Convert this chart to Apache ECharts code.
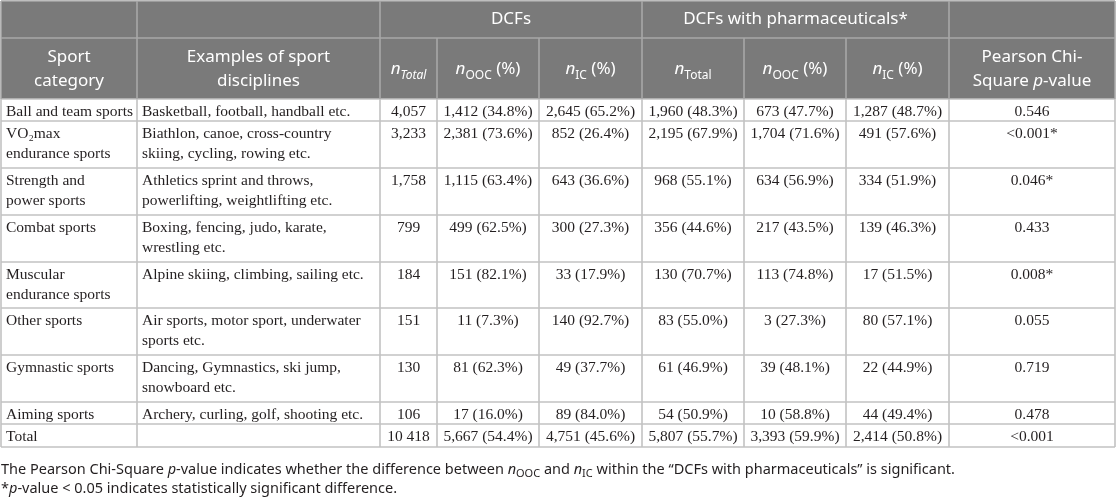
<!DOCTYPE html>
<html>
<head>
	<title>DCFs by sport category</title>
	<meta charset="utf-8">
	<script src="https://cdn.jsdelivr.net/npm/echarts@6/dist/echarts.min.js"></script>
	<style>body{margin:0;background:#fff;}</style>
</head>
<body>
	<div id="table-box" style="width: 1116px;height: 498px;"></div>
<script>
	// rows of the table, last one is the total
	var categories = ['Ball and team sports', 'VO\u2082max\nendurance sports', 'Strength and\npower sports', 'Combat sports',
		'Muscular\nendurance sports', 'Other sports', 'Gymnastic sports', 'Aiming sports', 'Total'];
	var examples = ['Basketball, football, handball etc.', 'Biathlon, canoe, cross-country\nskiing, cycling, rowing etc.',
		'Athletics sprint and throws,\npowerlifting, weightlifting etc.', 'Boxing, fencing, judo, karate,\nwrestling etc.',
		'Alpine skiing, climbing, sailing etc.', 'Air sports, motor sport, underwater\nsports etc.',
		'Dancing, Gymnastics, ski jump,\nsnowboard etc.', 'Archery, curling, golf, shooting etc.', ''];
	var nTotal = [4057, 3233, 1758, 799, 184, 151, 130, 106, 10418];
	var dcfOOC = [1412, 2381, 1115, 499, 151, 11, 81, 17, 5667];
	var dcfOOCPct = [34.8, 73.6, 63.4, 62.5, 82.1, 7.3, 62.3, 16.0, 54.4];
	var dcfIC = [2645, 852, 643, 300, 33, 140, 49, 89, 4751];
	var dcfICPct = [65.2, 26.4, 36.6, 27.3, 17.9, 92.7, 37.7, 84.0, 45.6];
	var phTotal = [1960, 2195, 968, 356, 130, 83, 61, 54, 5807];
	var phTotalPct = [48.3, 67.9, 55.1, 44.6, 70.7, 55.0, 46.9, 50.9, 55.7];
	var phOOC = [673, 1704, 634, 217, 113, 3, 39, 10, 3393];
	var phOOCPct = [47.7, 71.6, 56.9, 43.5, 74.8, 27.3, 48.1, 58.8, 59.9];
	var phIC = [1287, 491, 334, 139, 17, 80, 22, 44, 2414];
	var phICPct = [48.7, 57.6, 51.9, 46.3, 51.5, 57.1, 44.9, 49.4, 50.8];
	var pValues = ['0.546', '<0.001*', '0.046*', '0.433', '0.008*', '0.055', '0.719', '0.478', '<0.001'];

	var groupHeads = ['DCFs', 'DCFs with pharmaceuticals*'];
	var colHeads = ['Sport\ncategory', 'Examples of sport\ndisciplines', '{i|n}{si|Total}', '{i|n}{s|OOC}{t| (%)}',
		'{i|n}{s|IC}{t| (%)}', '{i|n}{s|Total}', '{i|n}{s|OOC}{t| (%)}', '{i|n}{s|IC}{t| (%)}', 'Pearson Chi-\nSquare {i|p}-value'];
	var notes = ['The Pearson Chi-Square {i|p}-value indicates whether the difference between {i|n}{s|OOC} and {i|n}{s|IC} within the \u201CDCFs with pharmaceuticals\u201D is significant.',
		'*{i|p}-value < 0.05 indicates statistically significant difference.'];

	// layout of the grid
	var colX = [1, 137, 380, 437, 539, 642, 744, 846, 949, 1115];
	var rowY = [1, 38, 99, 121, 168, 215, 262, 308, 355, 402, 424, 447];

	function fmt(n, sep) {
		return String(n).replace(/\B(?=(\d{3})+(?!\d))/g, sep || ',');
	}
	function pair(n, p) {
		return fmt(n) + ' (' + p.toFixed(1) + '%)';
	}

	var sans = '"Noto Sans", sans-serif';
	var serif = '"Liberation Serif", serif';
	var ink = '#231f20';
	function headRich(size) {
		return {
			t: {fontFamily: sans, fontSize: size, fill: '#fff', lineHeight: 24},
			i: {fontFamily: sans, fontSize: size, fontStyle: 'italic', fill: '#fff', lineHeight: 24},
			s: {fontFamily: sans, fontSize: 12, fill: '#fff', lineHeight: 10, verticalAlign: 'bottom'},
			si: {fontFamily: sans, fontSize: 12, fontStyle: 'italic', fill: '#fff', lineHeight: 10, verticalAlign: 'bottom'}
		};
	}

	var els = [];
	function addText(str, x, y, align, vAlign, font, size, color, lh, rich) {
		var st = {
			text: str, x: x, y: y, align: align, verticalAlign: vAlign,
			fontFamily: font, fontSize: size, fill: color, lineHeight: lh
		};
		if (rich) st.rich = rich;
		els.push({type: 'text', z: 3, silent: true, style: st});
	}
	function addLine(x1, y1, x2, y2, color) {
		els.push({type: 'line', z: 2, silent: true, shape: {x1: x1, y1: y1, x2: x2, y2: y2},
			style: {stroke: color, lineWidth: 1.6}});
	}

	// header background
	els.push({type: 'rect', z: 1, silent: true,
		shape: {x: colX[0], y: rowY[0], width: colX[9] - colX[0], height: rowY[2] - rowY[0]},
		style: {fill: '#7a7a7a'}});

	// grid lines
	var headLine = '#a8a8a8', bodyLine = '#c2c2c2';
	for (var r = 0; r < rowY.length; r++) {
		addLine(colX[0], rowY[r], colX[9], rowY[r], r <= 1 ? headLine : bodyLine);
	}
	for (var c = 0; c < colX.length; c++) {
		var startY = (c === 0 || c === 1 || c === 2 || c === 5 || c === 8 || c === 9) ? rowY[0] : rowY[1];
		addLine(colX[c], startY, colX[c], rowY[2], headLine);
		addLine(colX[c], rowY[2], colX[c], rowY[11], bodyLine);
	}

	// header texts
	addText(groupHeads[0], (colX[2] + colX[5]) / 2, (rowY[0] + rowY[1]) / 2, 'center', 'middle', sans, 17, '#fff', 24);
	addText(groupHeads[1], (colX[5] + colX[8]) / 2, (rowY[0] + rowY[1]) / 2, 'center', 'middle', sans, 17, '#fff', 24);
	for (var c = 0; c < colHeads.length; c++) {
		addText(colHeads[c], (colX[c] + colX[c + 1]) / 2, (rowY[1] + rowY[2]) / 2 + 1, 'center', 'middle',
			sans, 17, '#fff', 24, headRich(17));
	}

	// body cells
	for (var i = 0; i < categories.length; i++) {
		var isTotal = i === categories.length - 1;
		var cells = [
			isTotal ? fmt(nTotal[i], ' ') : fmt(nTotal[i]),
			pair(dcfOOC[i], dcfOOCPct[i]), pair(dcfIC[i], dcfICPct[i]),
			pair(phTotal[i], phTotalPct[i]), pair(phOOC[i], phOOCPct[i]), pair(phIC[i], phICPct[i]),
			pValues[i]
		];
		var rowTop = rowY[i + 2] + 3;
		addText(categories[i], colX[0] + 5, rowTop, 'left', 'top', serif, 15.5, ink, 20);
		addText(examples[i], colX[1] + 5, rowTop, 'left', 'top', serif, 15.5, ink, 20);
		for (var k = 0; k < cells.length; k++) {
			addText(cells[k], (colX[k + 2] + colX[k + 3]) / 2, rowTop, 'center', 'top', serif, 15.5, ink, 20);
		}
	}

	// footnotes
	var noteRich = {
		i: {fontFamily: sans, fontSize: 14.5, fontStyle: 'italic', fill: ink, lineHeight: 18},
		s: {fontFamily: sans, fontSize: 11, fill: ink, lineHeight: 9, verticalAlign: 'bottom'}
	};
	addText(notes[0], 1, 470, 'left', 'middle', sans, 14.5, ink, 18, noteRich);
	addText(notes[1], 1, 489, 'left', 'middle', sans, 14.5, ink, 18, noteRich);

	var table = echarts.init(document.getElementById('table-box'));
	table.setOption({
		backgroundColor: '#fff',
		animation: false,
		graphic: {elements: els}
	});
</script>
</body>
</html>
